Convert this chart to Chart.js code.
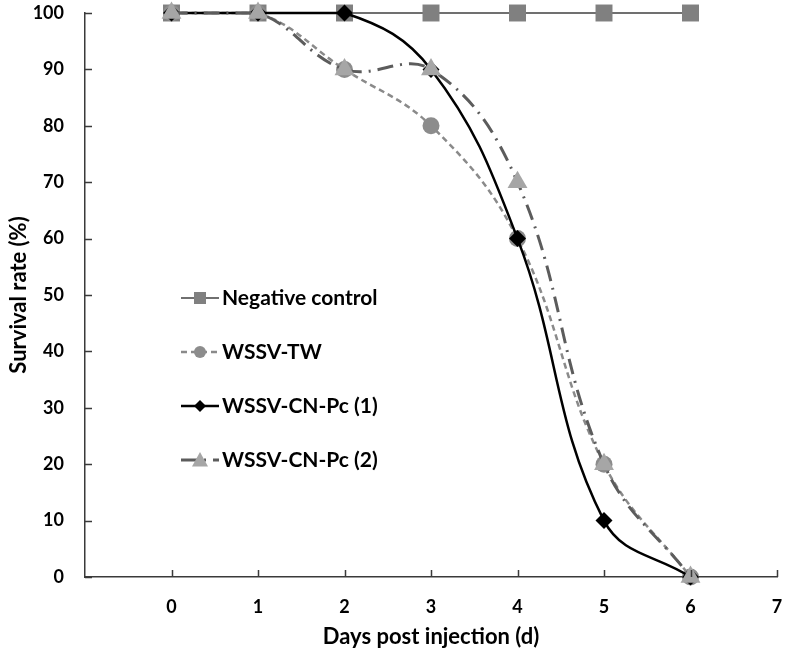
<!DOCTYPE html>
<html>
<head>
<meta charset="utf-8">
<script src="https://cdn.jsdelivr.net/npm/chart.js@4/dist/chart.umd.min.js"></script>
<style>
  html, body { margin: 0; padding: 0; background: #fff; }
  #wrap { width: 786px; height: 651px; }
</style>
</head>
<body>
<div id="wrap"><canvas id="survivalChart" width="786" height="651"></canvas></div>
<script>
// days post injection
const days = [0, 1, 2, 3, 4, 5, 6];
const negativeControl = [100, 100, 100, 100, 100, 100, 100];
const wssvTW = [100, 100, 90, 80, 60, 20, 0];
const wssvCN1 = [100, 100, 100, 90, 60, 10, 0];
const wssvCN2 = [100, 100, 90, 90, 70, 20, 0];
const seriesNames = ['Negative control', 'WSSV-TW', 'WSSV-CN-Pc (1)', 'WSSV-CN-Pc (2)'];

const FONT = 'Lato, "Open Sans", sans-serif';

function toPoints(vals) {
  return vals.map((v, i) => ({ x: days[i], y: v }));
}

// inward tick marks on both axes
const innerTicks = {
  id: 'innerTicks',
  afterDraw(chart) {
    const { ctx, scales: { x, y } } = chart;
    ctx.save();
    ctx.strokeStyle = '#3a3a3a';
    ctx.lineWidth = 1.5;
    ctx.beginPath();
    y.ticks.forEach(t => {
      const py = Math.round(y.getPixelForValue(t.value)) + 0.5;
      ctx.moveTo(x.left, py);
      ctx.lineTo(x.left + 7, py);
    });
    x.ticks.forEach(t => {
      if (t.value < 0) return;
      const px = Math.round(x.getPixelForValue(t.value)) + 0.5;
      ctx.moveTo(px, y.bottom);
      ctx.lineTo(px, y.bottom - 7);
    });
    ctx.stroke();
    ctx.restore();
  }
};

function drawMarker(ctx, style, cx, cy, r, fill) {
  ctx.fillStyle = fill;
  ctx.beginPath();
  if (style === 'rect') {
    ctx.rect(cx - r, cy - r, 2 * r, 2 * r);
  } else if (style === 'circle') {
    ctx.arc(cx, cy, r, 0, Math.PI * 2);
  } else if (style === 'rectRot') {
    ctx.moveTo(cx - r, cy); ctx.lineTo(cx, cy - r);
    ctx.lineTo(cx + r, cy); ctx.lineTo(cx, cy + r);
    ctx.closePath();
  } else if (style === 'triangle') {
    ctx.moveTo(cx, cy - r); ctx.lineTo(cx + r, cy + r * 0.8);
    ctx.lineTo(cx - r, cy + r * 0.8); ctx.closePath();
  }
  ctx.fill();
}

// legend drawn inside the plot, line + marker + label
const insideLegend = {
  id: 'insideLegend',
  afterDraw(chart) {
    const { ctx, chartArea } = chart;
    const x0 = chartArea.left + 96;
    const y0 = chartArea.top + 285;
    const rowGap = 54;
    ctx.save();
    chart.data.datasets.forEach((ds, i) => {
      const cy = y0 + i * rowGap;
      ctx.strokeStyle = ds.borderColor;
      ctx.lineWidth = ds.borderWidth;
      ctx.setLineDash(ds.borderDash || []);
      ctx.beginPath();
      ctx.moveTo(x0, cy);
      ctx.lineTo(x0 + 38, cy);
      ctx.stroke();
      ctx.setLineDash([]);
      drawMarker(ctx, ds.pointStyle, x0 + 19, cy, ds.legendMarker, ds.pointBackgroundColor);
      ctx.fillStyle = '#000';
      ctx.font = 'bold 21px ' + FONT;
      ctx.textBaseline = 'middle';
      ctx.textAlign = 'left';
      ctx.fillText(ds.label, x0 + 41, cy);
    });
    ctx.restore();
  }
};

const ctx = document.getElementById('survivalChart').getContext('2d');
new Chart(ctx, {
  type: 'line',
  data: {
    datasets: [
      {
        label: seriesNames[0],
        data: toPoints(negativeControl),
        borderColor: '#707070',
        borderWidth: 2,
        pointStyle: 'rect',
        pointRadius: 12,
        pointBackgroundColor: '#808080',
        pointBorderWidth: 0,
        legendMarker: 6,
        tension: 0,
        order: 4
      },
      {
        label: seriesNames[1],
        data: toPoints(wssvTW),
        borderColor: '#8a8a8a',
        borderWidth: 2.5,
        borderDash: [6, 4],
        pointStyle: 'circle',
        pointRadius: 8.5,
        pointBackgroundColor: '#8c8c8c',
        pointBorderWidth: 0,
        legendMarker: 6,
        tension: 0.4,
        order: 3
      },
      {
        label: seriesNames[2],
        data: toPoints(wssvCN1),
        borderColor: '#000000',
        borderWidth: 2.5,
        pointStyle: 'rectRot',
        pointRadius: 8.5,
        pointBackgroundColor: '#000000',
        pointBorderWidth: 0,
        legendMarker: 6,
        tension: 0.4,
        order: 2
      },
      {
        label: seriesNames[3],
        data: toPoints(wssvCN2),
        borderColor: '#5c5c5c',
        borderWidth: 3,
        borderDash: [16, 7, 2, 7],
        pointStyle: 'triangle',
        pointRadius: 11.5,
        pointBackgroundColor: '#a6a6a6',
        pointBorderWidth: 0,
        legendMarker: 8,
        tension: 0.4,
        order: 1
      }
    ]
  },
  options: {
    responsive: false,
    animation: false,
    clip: false,
    layout: { autoPadding: false, padding: { top: 13, right: 9, left: 0, bottom: 0 } },
    plugins: {
      legend: { display: false },
      tooltip: { enabled: false }
    },
    scales: {
      x: {
        type: 'linear',
        min: -1,
        max: 7,
        afterFit: s => {
          s.height = 74;
          s.paddingLeft = 0;
          s.paddingRight = 0;
        },
        ticks: {
          stepSize: 1,
          padding: 19,
          color: '#000',
          font: { family: FONT, size: 18, weight: 'bold' },
          callback: v => (v < 0 ? '' : v)
        },
        grid: { drawOnChartArea: false, drawTicks: false },
        border: { color: '#3a3a3a', width: 1.5 },
        title: {
          display: true,
          text: 'Days post injection (d)',
          color: '#000',
          font: { family: FONT, size: 22, weight: 'bold' },
          padding: { top: 4, bottom: 1 }
        }
      },
      y: {
        min: 0,
        max: 100,
        afterFit: s => {
          s.width = 85;
          s.paddingTop = 0;
          s.paddingBottom = 0;
        },
        ticks: {
          stepSize: 10,
          padding: 21,
          color: '#000',
          font: { family: FONT, size: 18, weight: 'bold' }
        },
        grid: { drawOnChartArea: false, drawTicks: false },
        border: { color: '#3a3a3a', width: 1.5 },
        title: {
          display: true,
          text: 'Survival rate (%)',
          color: '#000',
          font: { family: FONT, size: 22, weight: 'bold' },
          padding: { top: 6, bottom: 4 }
        }
      }
    }
  },
  plugins: [innerTicks, insideLegend]
});
</script>
</body>
</html>
